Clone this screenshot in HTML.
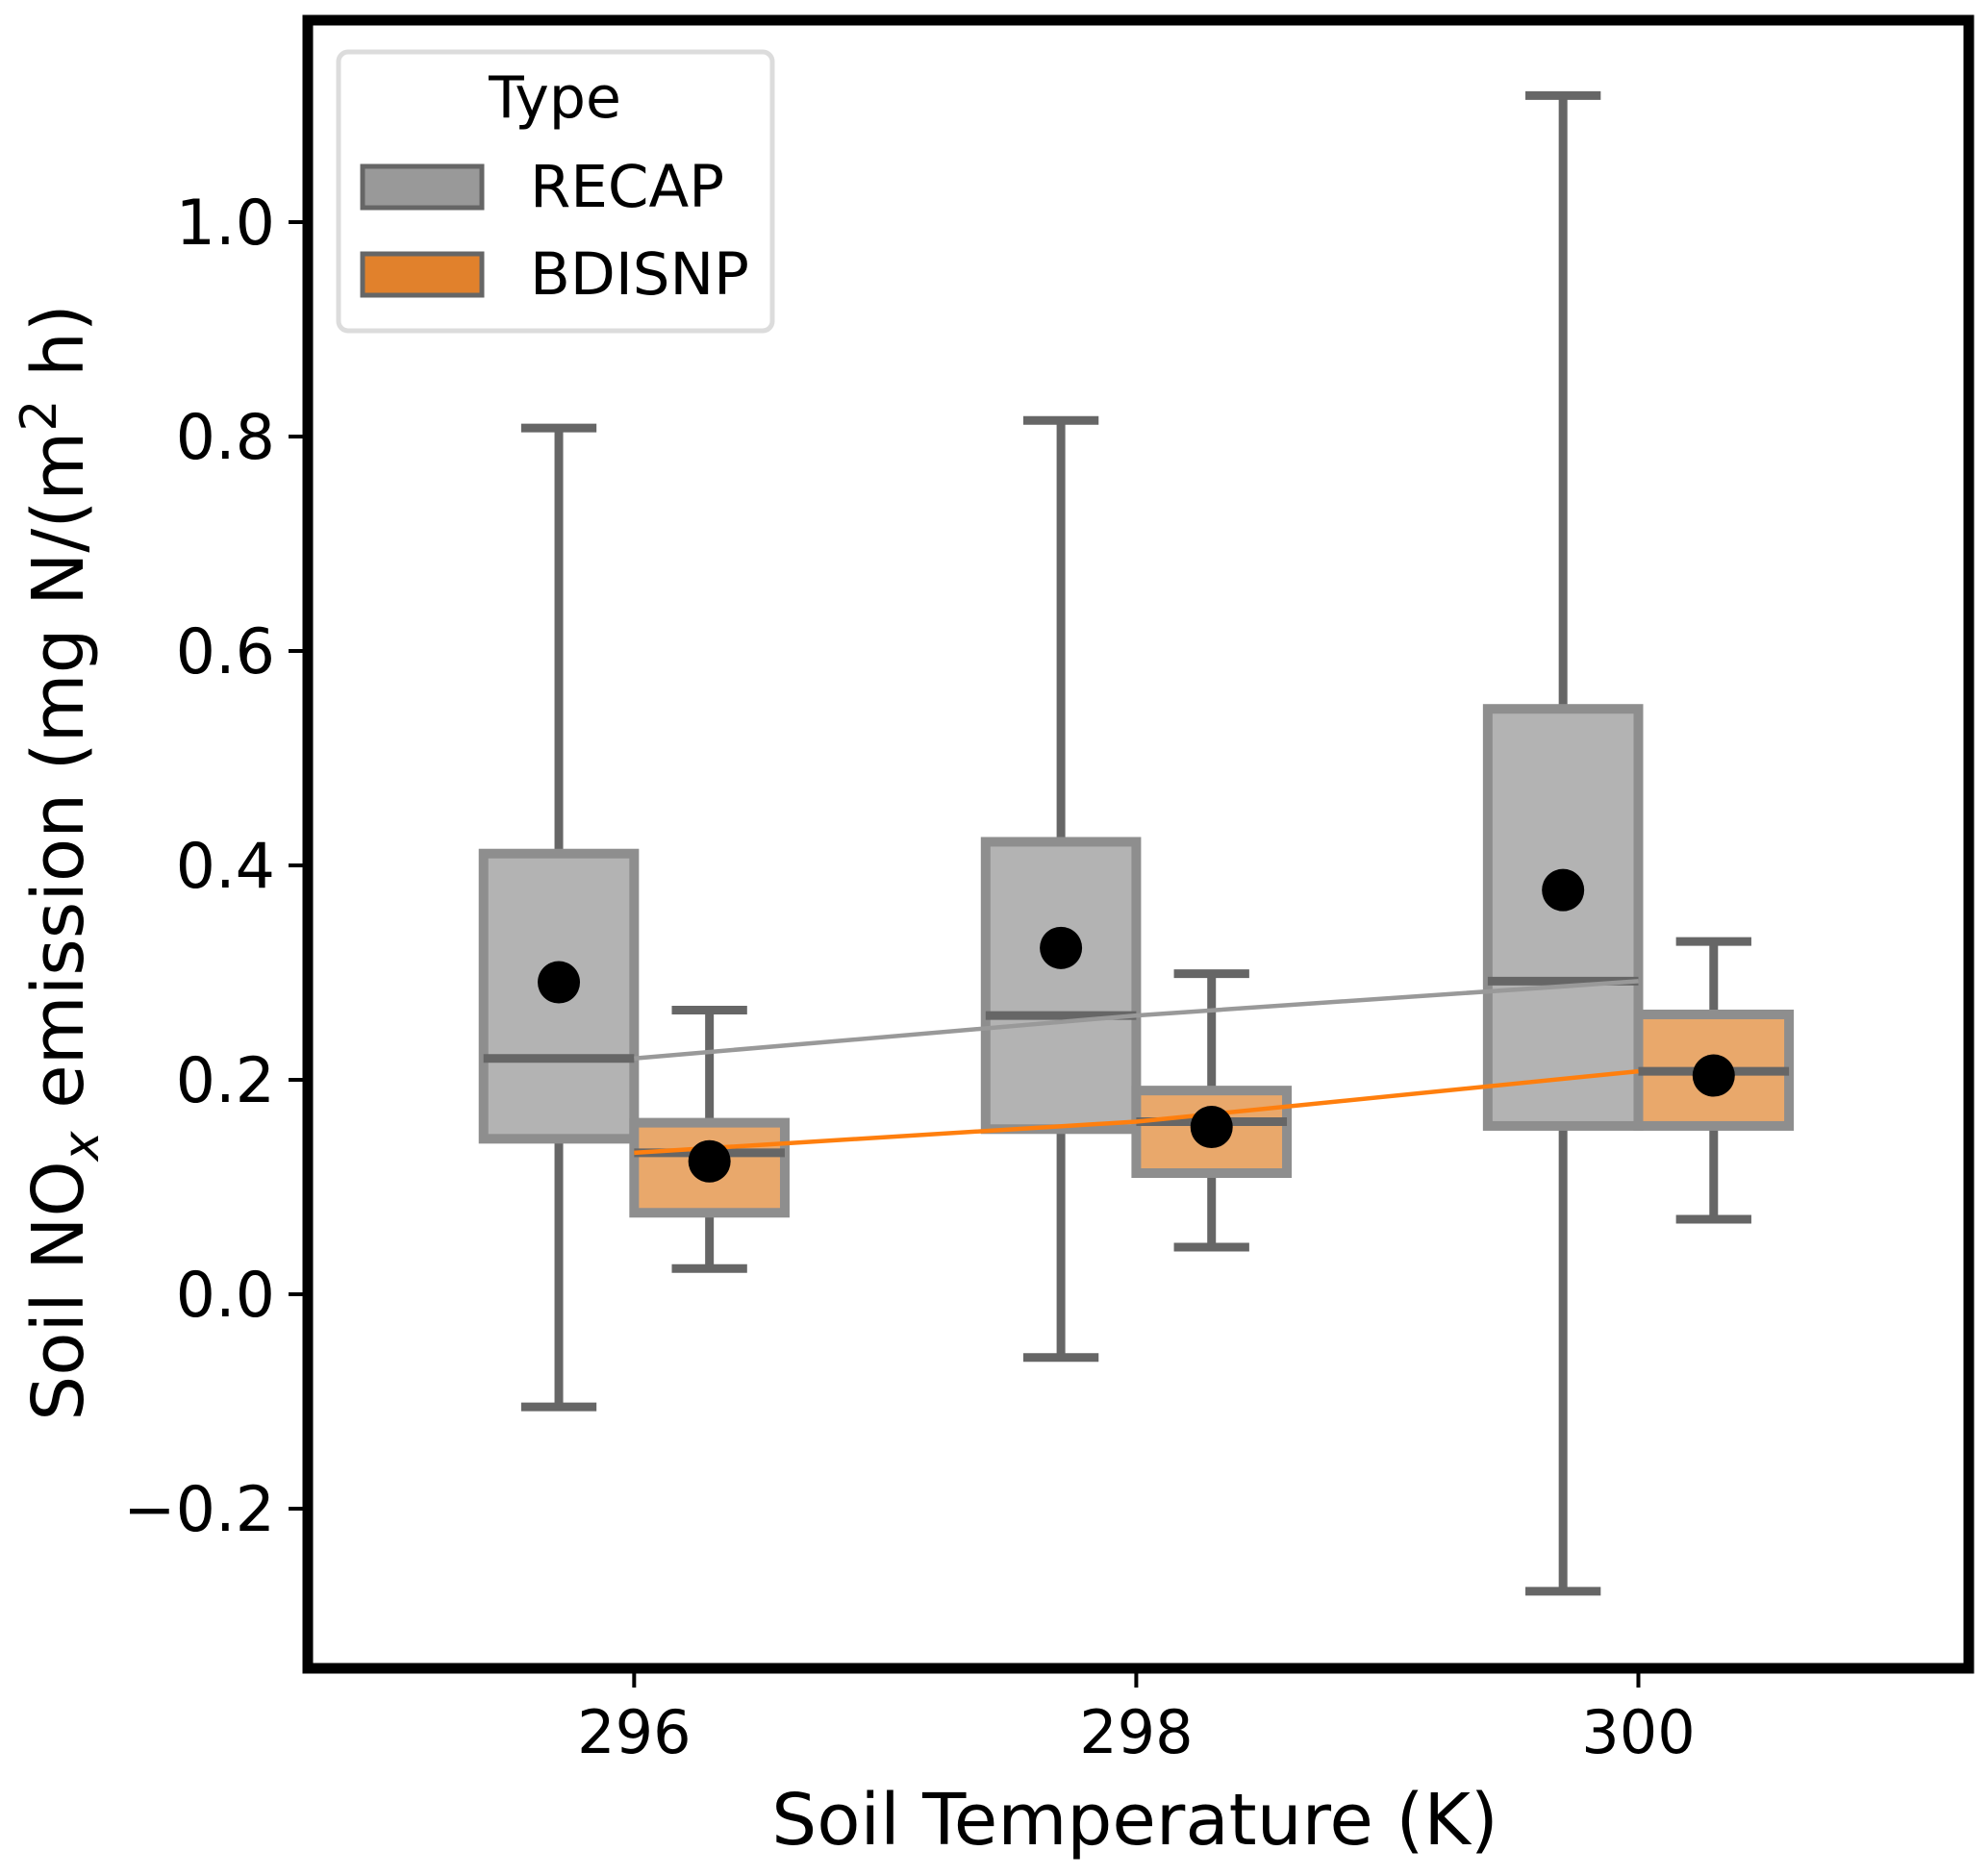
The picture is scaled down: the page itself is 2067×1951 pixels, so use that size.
<!DOCTYPE html>
<html><head><meta charset="utf-8"><style>
html,body{margin:0;padding:0;background:#fff;}
svg{display:block;font-family:"DejaVu Sans","Liberation Sans",sans-serif;}
</style></head><body>
<svg id="chart" width="2067" height="1951" viewBox="0 0 2067 1951" xmlns="http://www.w3.org/2000/svg">
<rect x="0" y="0" width="2067" height="1951" fill="#fff"/>
<g id="plot"></g>
<g id="axes"></g>
<g>
  <rect x="352" y="54" width="451" height="290" rx="10" fill="#fff" stroke="#dcdcdc" stroke-width="5"/>
  <text x="577" y="122" font-size="60" text-anchor="middle">Type</text>
  <rect x="377" y="173" width="124" height="43" fill="#999999" stroke="#666" stroke-width="5"/>
  <text x="551" y="215" font-size="61">RECAP</text>
  <rect x="377" y="264" width="124" height="43" fill="#e1812c" stroke="#666" stroke-width="5"/>
  <text x="551" y="306" font-size="61">BDISNP</text>
</g>
</svg>
<script>
const temps = [296, 298, 300];
const recapLow = [-0.105, -0.059, -0.277];
const recapQ1 = [0.145, 0.154, 0.157];
const recapMed = [0.22, 0.26, 0.292];
const recapQ3 = [0.411, 0.422, 0.546];
const recapHigh = [0.808, 0.815, 1.118];
const recapMean = [0.291, 0.323, 0.377];
const bdLow = [0.024, 0.044, 0.07];
const bdQ1 = [0.076, 0.113, 0.157];
const bdMed = [0.132, 0.161, 0.208];
const bdQ3 = [0.16, 0.19, 0.261];
const bdHigh = [0.265, 0.299, 0.329];
const bdMean = [0.124, 0.156, 0.204];
const yTicks = [-0.2, 0.0, 0.2, 0.4, 0.6, 0.8, 1.0];
const yTickLabels = ["\u22120.2", "0.0", "0.2", "0.4", "0.6", "0.8", "1.0"];
const xTickLabels = ["296", "298", "300"];

const NS = "http://www.w3.org/2000/svg";
const L = 320, R = 2047, T = 21, B = 1735;
const xMin = 294.7, xMax = 301.316;
const X = v => L + (v - xMin) / (xMax - xMin) * (R - L);
const Y = v => 1346 - v * 1115;
function mk(tag, attrs, parent) {
  const e = document.createElementNS(NS, tag);
  for (const k in attrs) e.setAttribute(k, attrs[k]);
  parent.appendChild(e);
  return e;
}
const plot = document.getElementById('plot');
const axes = document.getElementById('axes');

function drawBox(cx, low, q1, med, q3, high, mean, fill, name) {
  const hw = X(cx + 0.3) - X(cx);
  const cw = X(cx + 0.15) - X(cx);
  const g = mk('g', {}, plot);
  
  
  let e = mk('line', {x1: X(cx), x2: X(cx), y1: Y(high), y2: Y(q3), stroke: '#666', 'stroke-width': 9}, g);
  
  
  e = mk('line', {x1: X(cx), x2: X(cx), y1: Y(q1), y2: Y(low), stroke: '#666', 'stroke-width': 9}, g);
  
  
  e = mk('line', {x1: X(cx) - cw, x2: X(cx) + cw, y1: Y(high), y2: Y(high), stroke: '#666', 'stroke-width': 9}, g);
  
  
  e = mk('line', {x1: X(cx) - cw, x2: X(cx) + cw, y1: Y(low), y2: Y(low), stroke: '#666', 'stroke-width': 9}, g);
  
  
  e = mk('rect', {x: X(cx) - hw, y: Y(q3), width: 2 * hw, height: Y(q1) - Y(q3), fill: fill, stroke: '#8e8e8e', 'stroke-width': 10}, g);
  
  
  e = mk('line', {x1: X(cx) - hw, x2: X(cx) + hw, y1: Y(med), y2: Y(med), stroke: '#666', 'stroke-width': 9}, g);
  
  
  return g;
}
for (let i = 0; i < temps.length; i++) {
  drawBox(temps[i] - 0.3, recapLow[i], recapQ1[i], recapMed[i], recapQ3[i], recapHigh[i], recapMean[i], '#b3b3b3', 'recap-box-' + temps[i]);
  drawBox(temps[i] + 0.3, bdLow[i], bdQ1[i], bdMed[i], bdQ3[i], bdHigh[i], bdMean[i], '#e9a86b', 'bdisnp-box-' + temps[i]);
}
let pts = temps.map((t, i) => X(t) + ',' + Y(recapMed[i])).join(' ');
let ln = mk('polyline', {points: pts, fill: 'none', stroke: '#999', 'stroke-width': 4.5}, plot);


pts = temps.map((t, i) => X(t) + ',' + Y(bdMed[i])).join(' ');
ln = mk('polyline', {points: pts, fill: 'none', stroke: '#ff7f0e', 'stroke-width': 4.5}, plot);


for (let i = 0; i < temps.length; i++) {
  let c = mk('circle', {cx: X(temps[i] - 0.3), cy: Y(recapMean[i]), r: 22, fill: '#000'}, plot);
  
  
  c = mk('circle', {cx: X(temps[i] + 0.3), cy: Y(bdMean[i]), r: 22, fill: '#000'}, plot);
  
  
}
let fr = mk('rect', {x: L, y: T, width: R - L, height: B - T, fill: 'none', stroke: '#000', 'stroke-width': 11}, axes);


for (let i = 0; i < yTicks.length; i++) {
  const y = Y(yTicks[i]);
  let t = mk('line', {x1: L - 20, x2: L, y1: y, y2: y, stroke: '#000', 'stroke-width': 4}, axes);
  
  
  const tx = mk('text', {x: L - 34, y: y + 23, 'font-size': 65, 'text-anchor': 'end'}, axes);
  tx.textContent = yTickLabels[i];
  
  
}
for (let i = 0; i < temps.length; i++) {
  const x = X(temps[i]);
  let t = mk('line', {x1: x, x2: x, y1: B, y2: B + 20, stroke: '#000', 'stroke-width': 4}, axes);
  
  
  const tx = mk('text', {x: x, y: B + 88, 'font-size': 62, 'text-anchor': 'middle'}, axes);
  tx.textContent = xTickLabels[i];
  
  
}
const xl = mk('text', {x: 1180, y: 1918, 'font-size': 74, 'text-anchor': 'middle'}, axes);
xl.textContent = 'Soil Temperature (K)';


const yl = mk('text', {x: 0, y: 0, 'font-size': 74, 'text-anchor': 'middle', transform: 'translate(86,897) rotate(-90)'}, axes);


yl.innerHTML = 'Soil NO<tspan font-size="52" font-style="italic" dy="16">x</tspan><tspan dy="-16"> emission (mg N/(m</tspan><tspan font-size="52" dy="-28">2</tspan><tspan dy="28"> h)</tspan>';
</script>
</body></html>
